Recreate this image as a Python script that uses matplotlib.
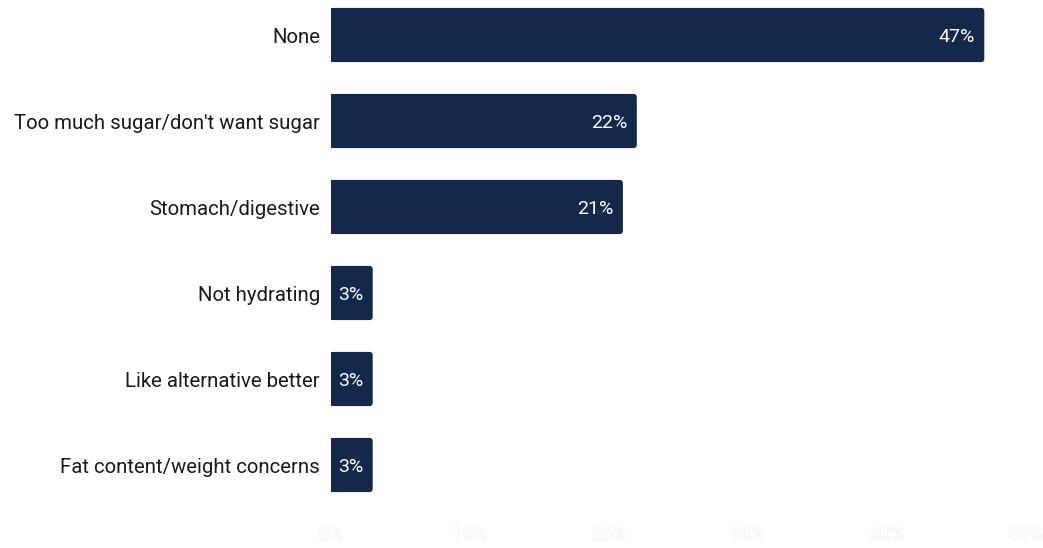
import matplotlib
matplotlib.use("Agg")
import matplotlib.pyplot as plt
import matplotlib.patheffects as pe
from matplotlib.patches import FancyBboxPatch, Rectangle

plt.rcParams['font.family'] = ['Roboto', 'DejaVu Sans']

categories = ["None", "Too much sugar/don't want sugar", "Stomach/digestive",
              "Not hydrating", "Like alternative better", "Fat content/weight concerns"]
values = [47, 22, 21, 3, 3, 3]
ticks = [0, 10, 20, 30, 40, 50]
tick_labels = ["0%", "10%", "20%", "30%", "40%", "50%"]

bar_color = "#14284b"
bar_h = 0.63

fig = plt.figure(figsize=(10.43, 5.48), dpi=100)
ax = fig.add_axes([331 / 1043, 40 / 548, 695 / 1043, 508 / 548])

ypos = list(range(len(categories)))
ax.set_xlim(0, 50)
ax.set_ylim(5.5, -0.407)

# bars with rounded right ends: a rounded box plus a square left part
r = 0.22
aspect = (86 / 1) / (695 / 50)
for y, v in zip(ypos, values):
    box = FancyBboxPatch((0, y - bar_h / 2), v, bar_h,
                         boxstyle=f"round,pad=0,rounding_size={r}",
                         mutation_aspect=1 / aspect,
                         fc=bar_color, ec="none")
    ax.add_patch(box)
    ax.add_patch(Rectangle((0, y - bar_h / 2), v - 2 * r, bar_h,
                           fc=bar_color, ec="none"))
    ax.annotate(f"{v}%", (v, y), xytext=(-7, -1.5), textcoords="offset points",
                ha="right", va="center", color="white", fontsize=14)

ax.set_yticks(ypos)
ax.set_yticklabels(categories, fontsize=14.7, color="#1a1a1a")
ax.tick_params(axis="y", length=0, pad=8)

ax.set_xticks(ticks)
ax.set_xticklabels(tick_labels, fontsize=13.5, color="white")
ax.tick_params(axis="x", length=0, pad=13)
for t in ax.get_xticklabels():
    t.set_path_effects([pe.withStroke(linewidth=0.8, foreground="#ececec"), pe.Normal()])

for s in ax.spines.values():
    s.set_visible(False)

fig.savefig("out.png", dpi=100)
